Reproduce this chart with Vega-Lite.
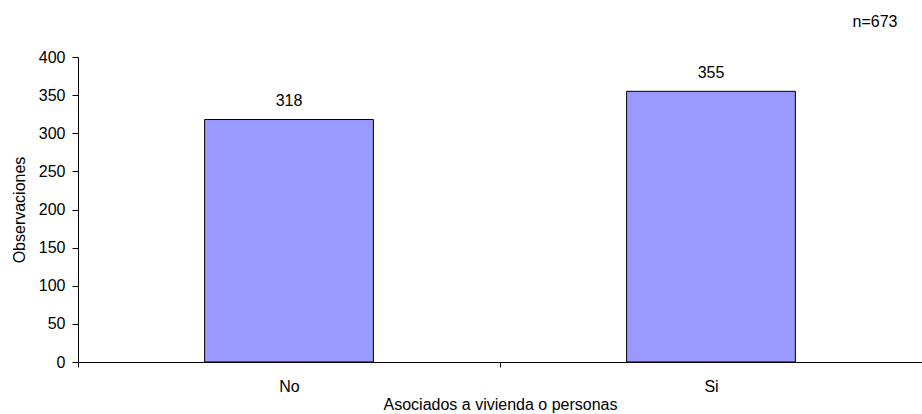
{
  "$schema": "https://vega.github.io/schema/vega-lite/v6.json",
  "autosize": {"type": "none"},
  "width": 844,
  "height": 305,
  "padding": {"left": 78, "top": 57, "right": 0, "bottom": 52},
  "background": "white",
  "title": {
    "text": "n=673",
    "anchor": "end",
    "orient": "top",
    "dx": -25,
    "offset": 19,
    "font": "Liberation Sans",
    "fontSize": 16,
    "fontWeight": "normal",
    "color": "black"
  },
  "config": {
    "view": {"stroke": null},
    "font": "Liberation Sans",
    "axis": {
      "domainColor": "black",
      "domainWidth": 1,
      "tickColor": "black",
      "tickWidth": 1,
      "labelColor": "black",
      "titleColor": "black",
      "labelFont": "Liberation Sans",
      "titleFont": "Liberation Sans",
      "labelFontSize": 16,
      "titleFontSize": 16,
      "titleFontWeight": "normal",
      "grid": false
    }
  },
  "data": {
    "values": [
      {"categoria": "No", "observaciones": 318},
      {"categoria": "Si", "observaciones": 355}
    ]
  },
  "encoding": {
    "x": {
      "field": "categoria",
      "type": "nominal",
      "sort": null,
      "title": "Asociados a vivienda o personas",
      "scale": {"paddingInner": 0, "paddingOuter": 0},
      "axis": {
        "labelAngle": 0,
        "tickBand": "extent",
        "tickSize": 5,
        "labelPadding": 11,
        "titlePadding": 2
      }
    },
    "y": {
      "field": "observaciones",
      "type": "quantitative",
      "title": "Observaciones",
      "scale": {"domain": [0, 400], "nice": false},
      "axis": {
        "values": [0, 50, 100, 150, 200, 250, 300, 350, 400],
        "tickSize": 6,
        "labelPadding": 7,
        "titlePadding": 11
      }
    }
  },
  "layer": [
    {
      "mark": {
        "type": "bar",
        "width": {"band": 0.4},
        "fill": "#9999FF",
        "stroke": "black",
        "strokeWidth": 1
      }
    },
    {
      "mark": {
        "type": "text",
        "baseline": "alphabetic",
        "dy": -13.5,
        "font": "Liberation Sans",
        "fontSize": 16,
        "color": "black"
      },
      "encoding": {"text": {"field": "observaciones", "type": "quantitative"}}
    }
  ]
}
